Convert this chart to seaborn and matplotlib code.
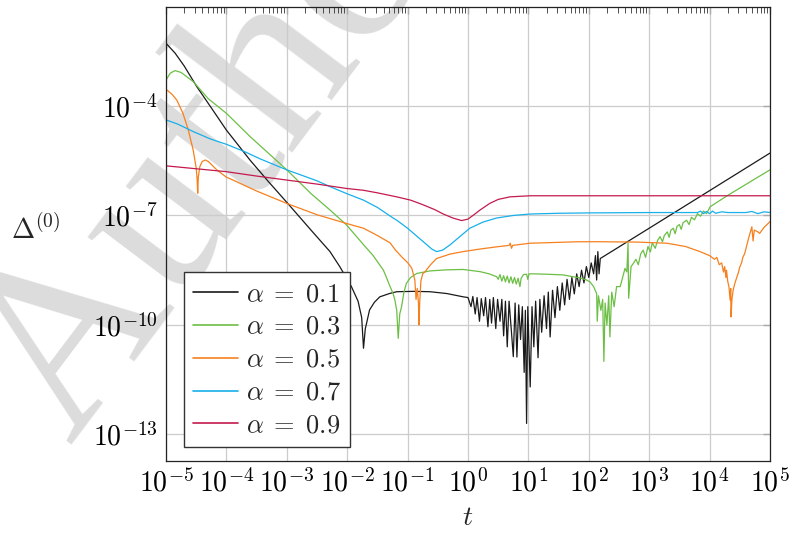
import numpy as np
import pandas as pd
import matplotlib
matplotlib.use("Agg")
import matplotlib.pyplot as plt
import seaborn as sns
from matplotlib.ticker import FixedLocator, FixedFormatter, NullLocator

# ---- data: log10(t) and log10(Delta^(0)) for each alpha ----
alpha_labels = [r"$\alpha\;=\;0.1$", r"$\alpha\;=\;0.3$", r"$\alpha\;=\;0.5$",
                r"$\alpha\;=\;0.7$", r"$\alpha\;=\;0.9$"]
line_colors = ["#1a1a1a", "#6cbf45", "#f7801e", "#18b0ea", "#c41a4e"]

lt_a01 = [-5.0, -4.85, -4.7, -4.49, -4.25, -4.0, -3.61, -3.3, -3.0, -2.6, -2.285, -2.12,
          -1.93, -1.82, -1.76, -1.73, -1.70, -1.68, -1.63, -1.55, -1.46, -1.3,
          -1.18, -0.9, -0.63, -0.35, -0.08,
          0.00, 0.05, 0.08, 0.12, 0.15, 0.19, 0.22, 0.26, 0.29, 0.33, 0.36, 0.39,
          0.42, 0.46, 0.49, 0.53, 0.56, 0.59, 0.62, 0.65, 0.68, 0.72, 0.75, 0.78,
          0.81, 0.84, 0.87, 0.90, 0.93, 0.95, 0.97, 0.99, 1.03, 1.06, 1.09, 1.12,
          1.16, 1.19, 1.22, 1.26, 1.30, 1.33, 1.36, 1.40, 1.44, 1.48, 1.52, 1.56,
          1.60, 1.64, 1.68, 1.72, 1.76, 1.80, 1.84, 1.88, 1.92, 1.96, 2.00, 2.04,
          2.08, 2.11, 2.13, 2.15, 2.17, 2.19, 3.0, 4.0, 5.0]
ld_a01 = [-2.28, -2.55, -2.9, -3.47, -4.05, -4.66, -5.48, -6.08, -6.64, -7.40, -7.99, -8.41,
          -8.95, -9.35, -9.8, -10.64, -10.1, -9.96, -9.59, -9.38, -9.23, -9.14,
          -9.09, -9.08, -9.09, -9.14, -9.23,
          -9.25, -9.5, -9.22, -9.7, -9.25, -9.9, -9.28, -9.75, -9.25, -10.05, -9.3, -9.95,
          -9.25, -10.1, -9.3, -9.9, -9.3, -10.3, -9.35, -10.6, -9.35, -10.2, -10.87, -9.4,
          -10.88, -9.45, -10.4, -9.5, -11.3, -9.6, -12.7, -9.5, -11.7, -9.5, -10.6, -9.35,
          -10.9, -9.3, -10.2, -9.2, -10.1, -9.1, -10.33, -9.05, -9.8, -8.95, -9.6, -8.85,
          -9.45, -8.75, -9.3, -8.7, -9.15, -8.6, -8.95, -8.5, -8.85, -8.4, -8.7, -8.3,
          -8.6, -8.1, -8.77, -7.99, -8.6, -8.18, -7.35, -6.32, -5.29]

lt_a03 = [-5.0, -4.93, -4.85, -4.75, -4.55, -4.3, -4.0, -3.6, -3.2, -3.0, -2.6,
          -2.285, -2.01, -1.73, -1.57, -1.40, -1.35, -1.29, -1.24, -1.21, -1.18,
          -1.155, -1.13, -1.10, -1.06, -1.02, -0.95, -0.85, -0.63, -0.35, -0.08,
          0.20, 0.35, 0.475, 0.50, 0.53, 0.56, 0.59, 0.62, 0.65, 0.68, 0.71, 0.74,
          0.77, 0.80, 0.83, 0.86, 0.88, 0.92, 0.97, 0.99, 1.01, 1.08, 1.3, 1.58,
          1.74, 1.83, 1.95, 2.02, 2.08, 2.13, 2.14, 2.16, 2.20, 2.23, 2.25, 2.27,
          2.30, 2.33, 2.35, 2.38, 2.42, 2.46, 2.52, 2.56, 2.60, 2.63, 2.65, 2.66,
          2.70, 2.74, 2.78, 2.82, 2.86, 2.90, 2.94, 2.98, 3.02, 3.05, 3.10, 3.14,
          3.18, 3.22, 3.25, 3.30, 3.33, 3.36, 3.40, 3.43, 3.46, 3.50, 3.53, 3.56,
          3.62, 3.66, 3.70, 3.75, 3.80, 3.85, 3.90, 3.95, 4.01, 4.3, 4.72, 5.0]
ld_a03 = [-3.29, -3.1, -3.03, -3.08, -3.33, -3.8, -4.2, -4.85, -5.45, -5.75, -6.4,
          -6.85, -7.26, -7.8, -8.1, -8.50, -8.7, -8.95, -9.14, -9.32, -9.6,
          -10.37, -9.7, -9.50, -9.1, -8.86, -8.7, -8.59, -8.52, -8.49, -8.48,
          -8.54, -8.6, -8.68, -8.75, -8.62, -8.8, -8.65, -8.82, -8.66, -8.85, -8.68, -8.86,
          -8.7, -8.88, -8.72, -8.95, -8.72, -8.62, -8.61, -8.75, -8.60, -8.60, -8.61, -8.63,
          -8.68, -8.70, -8.76, -8.82, -8.95, -9.14, -9.9, -9.2, -9.6, -9.3, -11.0, -9.4,
          -10.0, -9.2, -10.33, -9.1, -9.5, -8.95, -8.95, -8.7, -8.45, -8.55, -7.76, -9.27,
          -8.4, -8.31, -8.2, -8.35, -8.05, -7.95, -8.15, -7.85, -8.0, -7.75, -7.9, -7.68,
          -7.58, -7.72, -7.55, -7.45, -7.6, -7.4, -7.35, -7.5, -7.3, -7.25, -7.38, -7.2,
          -7.13, -7.25, -7.05, -7.12, -6.95, -7.02, -6.88, -6.95, -6.76, -6.45, -6.03, -5.75]

lt_a05 = [-5.0, -4.9, -4.82, -4.72, -4.63, -4.55, -4.5, -4.485, -4.475, -4.465, -4.44,
          -4.40, -4.35, -4.30, -4.22, -4.16, -4.0, -3.89, -3.5, -3.0, -2.5, -2.01,
          -1.73, -1.5, -1.29, -1.2, -1.10, -0.99, -0.93, -0.88, -0.86, -0.84, -0.82,
          -0.81, -0.80, -0.78, -0.75, -0.71, -0.62, -0.52, -0.3, -0.08, 0.2, 0.475,
          0.68, 0.70, 0.72, 0.74, 1.03, 1.25, 1.83, 2.19, 2.8, 3.29, 3.6, 3.84,
          4.0, 4.08, 4.12, 4.16, 4.2, 4.23, 4.25, 4.27, 4.28, 4.30, 4.32, 4.34, 4.35,
          4.355, 4.37, 4.39, 4.42, 4.45, 4.48, 4.50, 4.53, 4.55, 4.58, 4.61, 4.65,
          4.70, 4.72, 4.74, 4.8, 4.83, 4.9, 5.0]
ld_a05 = [-3.54, -3.68, -3.84, -4.2, -4.66, -5.21, -5.7, -6.0, -6.39, -5.95, -5.66,
          -5.52, -5.48, -5.52, -5.65, -5.75, -5.95, -6.03, -6.33, -6.67, -6.98, -7.22,
          -7.35, -7.55, -7.75, -7.95, -8.13, -8.31, -8.45, -8.77, -9.3, -9.0, -9.4,
          -10.0, -9.4, -8.8, -8.6, -8.54, -8.35, -8.18, -8.06, -7.99, -7.92, -7.86,
          -7.82, -7.76, -7.9, -7.82, -7.76, -7.75, -7.72, -7.72, -7.73, -7.76, -7.85, -7.99,
          -8.1, -8.2, -8.15, -8.35, -8.3, -8.55, -8.4, -8.7, -8.5, -8.8, -8.95, -9.32, -9.0,
          -9.78, -9.3, -9.05, -8.85, -8.7, -8.55, -8.41, -8.3, -8.15, -8.05, -7.86, -7.6,
          -7.31, -7.7, -7.4, -7.45, -7.49, -7.33, -7.17]

lt_a07 = [-5.0, -4.8, -4.55, -4.27, -4.0, -3.7, -3.44, -3.0, -2.5, -2.285, -2.01,
          -1.73, -1.5, -1.24, -1.18, -1.0, -0.74, -0.6, -0.52, -0.42, -0.30, -0.15,
          0.03, 0.25, 0.475, 0.75, 1.03, 1.5, 2.0, 3.0, 3.8, 3.85, 3.9, 3.95, 4.0,
          4.05, 4.1, 4.2, 4.3, 4.6, 4.7, 4.8, 4.9, 5.0]
ld_a07 = [-4.38, -4.5, -4.70, -4.90, -5.05, -5.25, -5.45, -5.75, -6.05, -6.21, -6.40,
          -6.58, -6.78, -7.07, -7.13, -7.35, -7.72, -7.92, -7.99, -7.95, -7.81, -7.6,
          -7.35, -7.18, -7.07, -7.0, -6.96, -6.94, -6.93, -6.92, -6.92, -6.88, -6.95, -6.89,
          -6.95, -6.88, -6.94, -6.9, -6.92, -6.92, -6.89, -6.95, -6.9, -6.92]

lt_a09 = [-5.0, -4.5, -4.0, -3.5, -3.0, -2.5, -2.01, -1.73, -1.5, -1.18, -0.95,
          -0.74, -0.55, -0.41, -0.25, -0.105, 0.0, 0.09, 0.2, 0.36, 0.5, 0.695,
          1.03, 2.0, 5.0]
ld_a09 = [-5.64, -5.72, -5.80, -5.92, -6.03, -6.14, -6.26, -6.31, -6.38, -6.49, -6.58,
          -6.71, -6.84, -6.96, -7.07, -7.14, -7.1, -6.99, -6.85, -6.67, -6.56, -6.49,
          -6.46, -6.46, -6.46]

series_t = [lt_a01, lt_a03, lt_a05, lt_a07, lt_a09]
series_d = [ld_a01, ld_a03, ld_a05, ld_a07, ld_a09]

ytick_exp = [-13, -10, -7, -4]
xtick_exp = list(range(-5, 6))

frames = []
for lab, lt, ld in zip(alpha_labels, series_t, series_d):
    frames.append(pd.DataFrame({"t": 10.0 ** np.asarray(lt),
                                "delta": 10.0 ** np.asarray(ld),
                                "alpha": lab}))
df = pd.concat(frames, ignore_index=True)

# ---- style ----
sns.set_theme(style="white")
plt.rcParams["font.family"] = ["DejaVu Serif"]
plt.rcParams["mathtext.fontset"] = "cm"

fig = plt.figure(figsize=(7.92, 5.35), dpi=100)
ax = fig.add_axes([0.2096, 0.1383, 0.7626, 0.8481])
ax.set_facecolor("none")

# diagonal watermark behind the axes
fig.text(0.088, 0.168, "Author", rotation=53, rotation_mode="anchor",
         ha="left", va="baseline", fontsize=175, family="Liberation Serif",
         color="#dcdcdc", zorder=-10)

sns.lineplot(data=df, x="t", y="delta", hue="alpha", hue_order=alpha_labels,
             palette=line_colors, estimator=None, sort=False, linewidth=0.9,
             ax=ax, legend=True)

ax.set_xscale("log")
ax.set_yscale("log")
ax.set_xlim(1e-5, 1e5)
ax.set_ylim(10 ** -13.73, 10 ** -1.294)

ax.xaxis.set_major_locator(FixedLocator([10.0 ** e for e in xtick_exp]))
ax.xaxis.set_major_formatter(FixedFormatter([rf"$10^{{{e}}}$" for e in xtick_exp]))
ax.xaxis.set_minor_locator(FixedLocator([m * 10.0 ** e for e in range(-5, 5)
                                          for m in range(2, 10)]))
ax.yaxis.set_major_locator(FixedLocator([10.0 ** e for e in ytick_exp]))
ax.yaxis.set_major_formatter(FixedFormatter([rf"$10^{{{e}}}$" for e in ytick_exp]))
ax.yaxis.set_minor_locator(NullLocator())

ax.grid(True, which="major", color="#cccccc", linewidth=0.9)
ax.tick_params(which="both", direction="in", top=True, right=True,
               labelsize=20, colors="black")
ax.tick_params(which="major", length=5, width=1.0, color="#aaaaaa", pad=6)
ax.tick_params(which="minor", length=4, width=0.6, color="#333333")
for sp in ax.spines.values():
    sp.set_color("#222222")
    sp.set_linewidth(0.9)

ax.set_xlabel(r"$t$", fontsize=20, labelpad=4)
ax.set_ylabel(r"$\Delta^{(0)}$", fontsize=20, rotation=0, va="center", ha="center")
ax.yaxis.set_label_coords(-0.215, 0.51)

handles, labels = ax.get_legend_handles_labels()
leg = ax.legend(handles, labels, loc="lower left", bbox_to_anchor=(0.03, 0.031),
                fontsize=19, frameon=True, fancybox=False, framealpha=1,
                edgecolor="#333333", handlelength=1.7, handletextpad=0.3,
                labelspacing=0.3, borderpad=0.35, borderaxespad=0)
leg.get_frame().set_linewidth(1.0)
for h in leg.get_lines():
    h.set_linewidth(1.2)

fig.savefig("out.png", dpi=100)
